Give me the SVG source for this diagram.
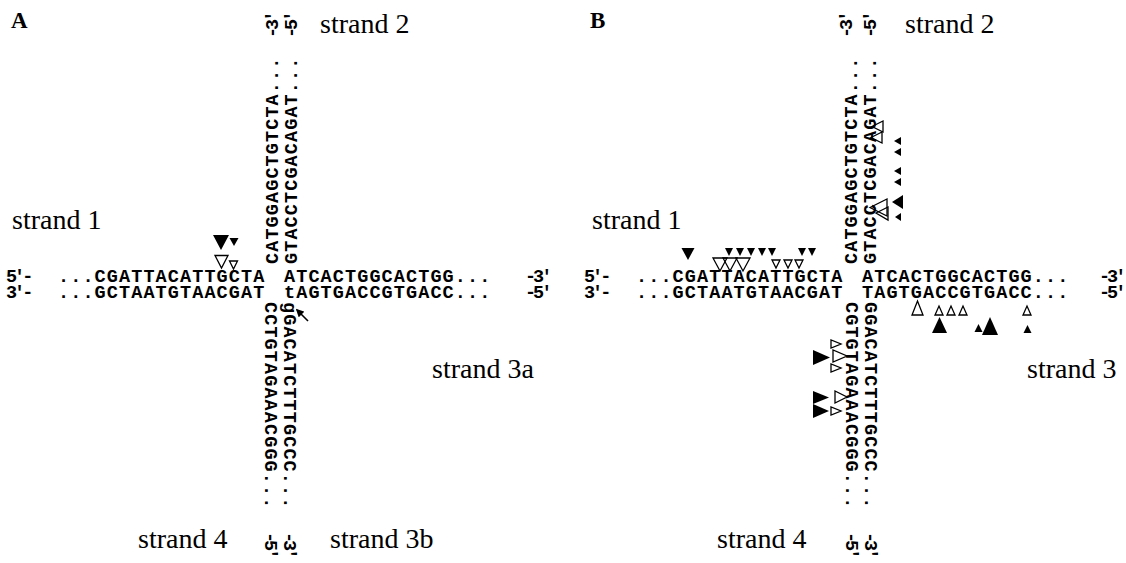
<svg xmlns="http://www.w3.org/2000/svg" width="1126" height="563" viewBox="0 0 1126 563">
  <style>
    .seq { font-family: "Liberation Mono", "DejaVu Sans Mono", monospace; font-weight: bold; font-size: 18.5px; letter-spacing: 1.1px; fill: #000; }
    .end { font-family: "Liberation Mono", "DejaVu Sans Mono", monospace; font-weight: bold; font-size: 18.5px; letter-spacing: -3px; fill: #000; }
    .lbl { font-family: "Liberation Serif", "Times New Roman", serif; font-size: 28px; fill: #000; }
    .panel { font-family: "Liberation Serif", "Times New Roman", serif; font-weight: bold; font-size: 23px; fill: #000; }
    .solid { fill: #000; stroke: none; }
    .open { fill: none; stroke: #000; stroke-width: 1.3; }
  </style>
  <defs>
    <marker id="head" viewBox="0 0 10 10" refX="8" refY="5" markerWidth="5" markerHeight="5" orient="auto">
      <path d="M0,0 L10,5 L0,10 z" fill="#000"/>
    </marker>
  </defs>
  <rect width="1126" height="563" fill="#fff"/>

  <!-- ===================== Panel A ===================== -->
  <g id="panelA">
    <text class="panel" x="11" y="28">A</text>

    <g id="A-strand1">
      <text class="lbl" x="12" y="229">strand 1</text>
      <text class="end" x="6" y="282">5′-</text>
      <text class="seq" x="58" y="282">...CGATTACATTGCTA</text>
      <text class="end" x="6" y="298">3′-</text>
      <text class="seq" x="58" y="298">...GCTAATGTAACGAT</text>
    </g>

    <g id="A-strand3a">
      <text class="seq" x="284" y="282">ATCACTGGCACTGG...</text>
      <text class="end" x="525" y="282">-3′</text>
      <text class="seq" x="284" y="298">tAGTGACCGTGACC...</text>
      <text class="end" x="525" y="298">-5′</text>
      <text class="lbl" x="432" y="378">strand 3a</text>
    </g>

    <g id="A-strand2">
      <text class="lbl" x="320" y="33">strand 2</text>
      <text class="seq" transform="translate(278,264) rotate(-90)">CATGGAGCTGTCTA...</text>
      <text class="end" transform="translate(278,38) rotate(-90)">-3′</text>
      <text class="seq" transform="translate(297,264) rotate(-90)">GTACCTCGACAGAT...</text>
      <text class="end" transform="translate(297,38) rotate(-90)">-5′</text>
    </g>

    <g id="A-strand4">
      <text class="lbl" x="138" y="548">strand 4</text>
      <text class="seq" transform="translate(265,302) rotate(90)">CCTGTAGAAACGGG...</text>
      <text class="end" transform="translate(265,532) rotate(90)">-5′</text>
    </g>

    <g id="A-strand3b">
      <text class="lbl" x="330" y="548">strand 3b</text>
      <text class="seq" transform="translate(284,302) rotate(90)">gGACATCTTTGCCC...</text>
      <text class="end" transform="translate(284,532) rotate(90)">-3′</text>
    </g>

    <g id="A-marks">
      <polygon class="solid" points="213,235 229,235 221,250"/>
      <polygon class="solid" points="229.5,238 238.5,238 234,246"/>
      <polygon class="open" points="215,255.5 228,255.5 221.5,268"/>
      <polygon class="open" points="229.5,261 237.5,261 233.5,269"/>
    </g>
  </g>

  <g id="connectors">
    <line x1="308" y1="321" x2="297" y2="310" stroke="#000" stroke-width="1.6" marker-end="url(#head)"/>
  </g>

  <!-- ===================== Panel B ===================== -->
  <g id="panelB">
    <text class="panel" x="590" y="28">B</text>

    <g id="B-strand1">
      <text class="lbl" x="592" y="229">strand 1</text>
      <text class="end" x="584" y="282">5′-</text>
      <text class="seq" x="636" y="282">...CGATTACATTGCTA</text>
      <text class="end" x="584" y="298">3′-</text>
      <text class="seq" x="636" y="298">...GCTAATGTAACGAT</text>
    </g>

    <g id="B-strand3">
      <text class="seq" x="862" y="282">ATCACTGGCACTGG...</text>
      <text class="end" x="1099" y="282">-3′</text>
      <text class="seq" x="862" y="298">TAGTGACCGTGACC...</text>
      <text class="end" x="1099" y="298">-5′</text>
      <text class="lbl" x="1027" y="378">strand 3</text>
    </g>

    <g id="B-strand2">
      <text class="lbl" x="905" y="33">strand 2</text>
      <text class="seq" transform="translate(857,264) rotate(-90)">CATGGAGCTGTCTA...</text>
      <text class="end" transform="translate(852,38) rotate(-90)">-3′</text>
      <text class="seq" transform="translate(876,264) rotate(-90)">GTACCTCGACAGAT...</text>
      <text class="end" transform="translate(876,38) rotate(-90)">-5′</text>
    </g>

    <g id="B-strand4">
      <text class="lbl" x="717" y="548">strand 4</text>
      <text class="seq" transform="translate(846,302) rotate(90)">CGTGTAGAAACGGG...</text>
      <text class="end" transform="translate(846,532) rotate(90)">-5′</text>
      <text class="seq" transform="translate(865,302) rotate(90)">GGACATCTTTGCCC...</text>
      <text class="end" transform="translate(865,532) rotate(90)">-3′</text>
    </g>

    <g id="B-marks1">
      <polygon class="solid" points="681.5,248 694.5,248 688,260"/>
      <polygon class="solid" points="725,248 733,248 729,256"/>
      <polygon class="solid" points="736,248 744,248 740,256"/>
      <polygon class="solid" points="747,248 755,248 751,256"/>
      <polygon class="solid" points="758,248 766,248 762,256"/>
      <polygon class="solid" points="768,248 776,248 772,256"/>
      <polygon class="solid" points="798,248 806,248 802,256"/>
      <polygon class="solid" points="808,248 816,248 812,256"/>
      <polygon class="open" points="713,258 727,258 720,271"/>
      <polygon class="open" points="723,258 737,258 730,271"/>
      <polygon class="open" points="736,258 750,258 743,271"/>
      <polygon class="open" points="772,260 780,260 776,268"/>
      <polygon class="open" points="784,260 792,260 788,268"/>
      <polygon class="open" points="795,260 803,260 799,268"/>
    </g>

    <g id="B-marks2">
      <polygon class="open" points="872,126.5 883,121 883,132"/>
      <polygon class="open" points="871,137.5 882,132 882,143"/>
      <polygon class="solid" points="894,141 901,137 901,145"/>
      <polygon class="solid" points="894,152 901,148 901,156"/>
      <polygon class="solid" points="894,171 901,167 901,175"/>
      <polygon class="solid" points="894,182 901,178 901,186"/>
      <polygon class="solid" points="892,202 903,195 903,209"/>
      <polygon class="solid" points="895,217 901,213 901,221"/>
      <polygon class="open" points="870,207.5 887,199 887,216"/>
      <polygon class="open" points="876,213 888,207 888,220"/>
    </g>

    <g id="B-marks3">
      <polygon class="open" points="912,315 923,315 917.5,301"/>
      <polygon class="open" points="935,315 943,315 939,306"/>
      <polygon class="open" points="947,315 955,315 951,306"/>
      <polygon class="open" points="959,315 967,315 963,306"/>
      <polygon class="open" points="1023,315 1031,315 1027,306"/>
      <polygon class="solid" points="932,333 947,333 939.5,317"/>
      <polygon class="solid" points="974.5,332 982.5,332 978.5,324"/>
      <polygon class="solid" points="982,335 998,335 990,317"/>
      <polygon class="solid" points="1023.5,333 1031.5,333 1027.5,325"/>
    </g>

    <g id="B-marks4">
      <polygon class="solid" points="813,350 813,365 830,357.5"/>
      <polygon class="solid" points="813,391 813,404 829,397.5"/>
      <polygon class="solid" points="813,404 813,418 829,411"/>
      <polygon class="open" points="831,340 831,348 841,344"/>
      <polygon class="open" points="833,350 833,362 847,356"/>
      <polygon class="open" points="831,364 831,372 841,368"/>
      <polygon class="open" points="835,391 835,403 847,397"/>
      <polygon class="open" points="831,407 831,415 841,411"/>
    </g>
  </g>
</svg>
